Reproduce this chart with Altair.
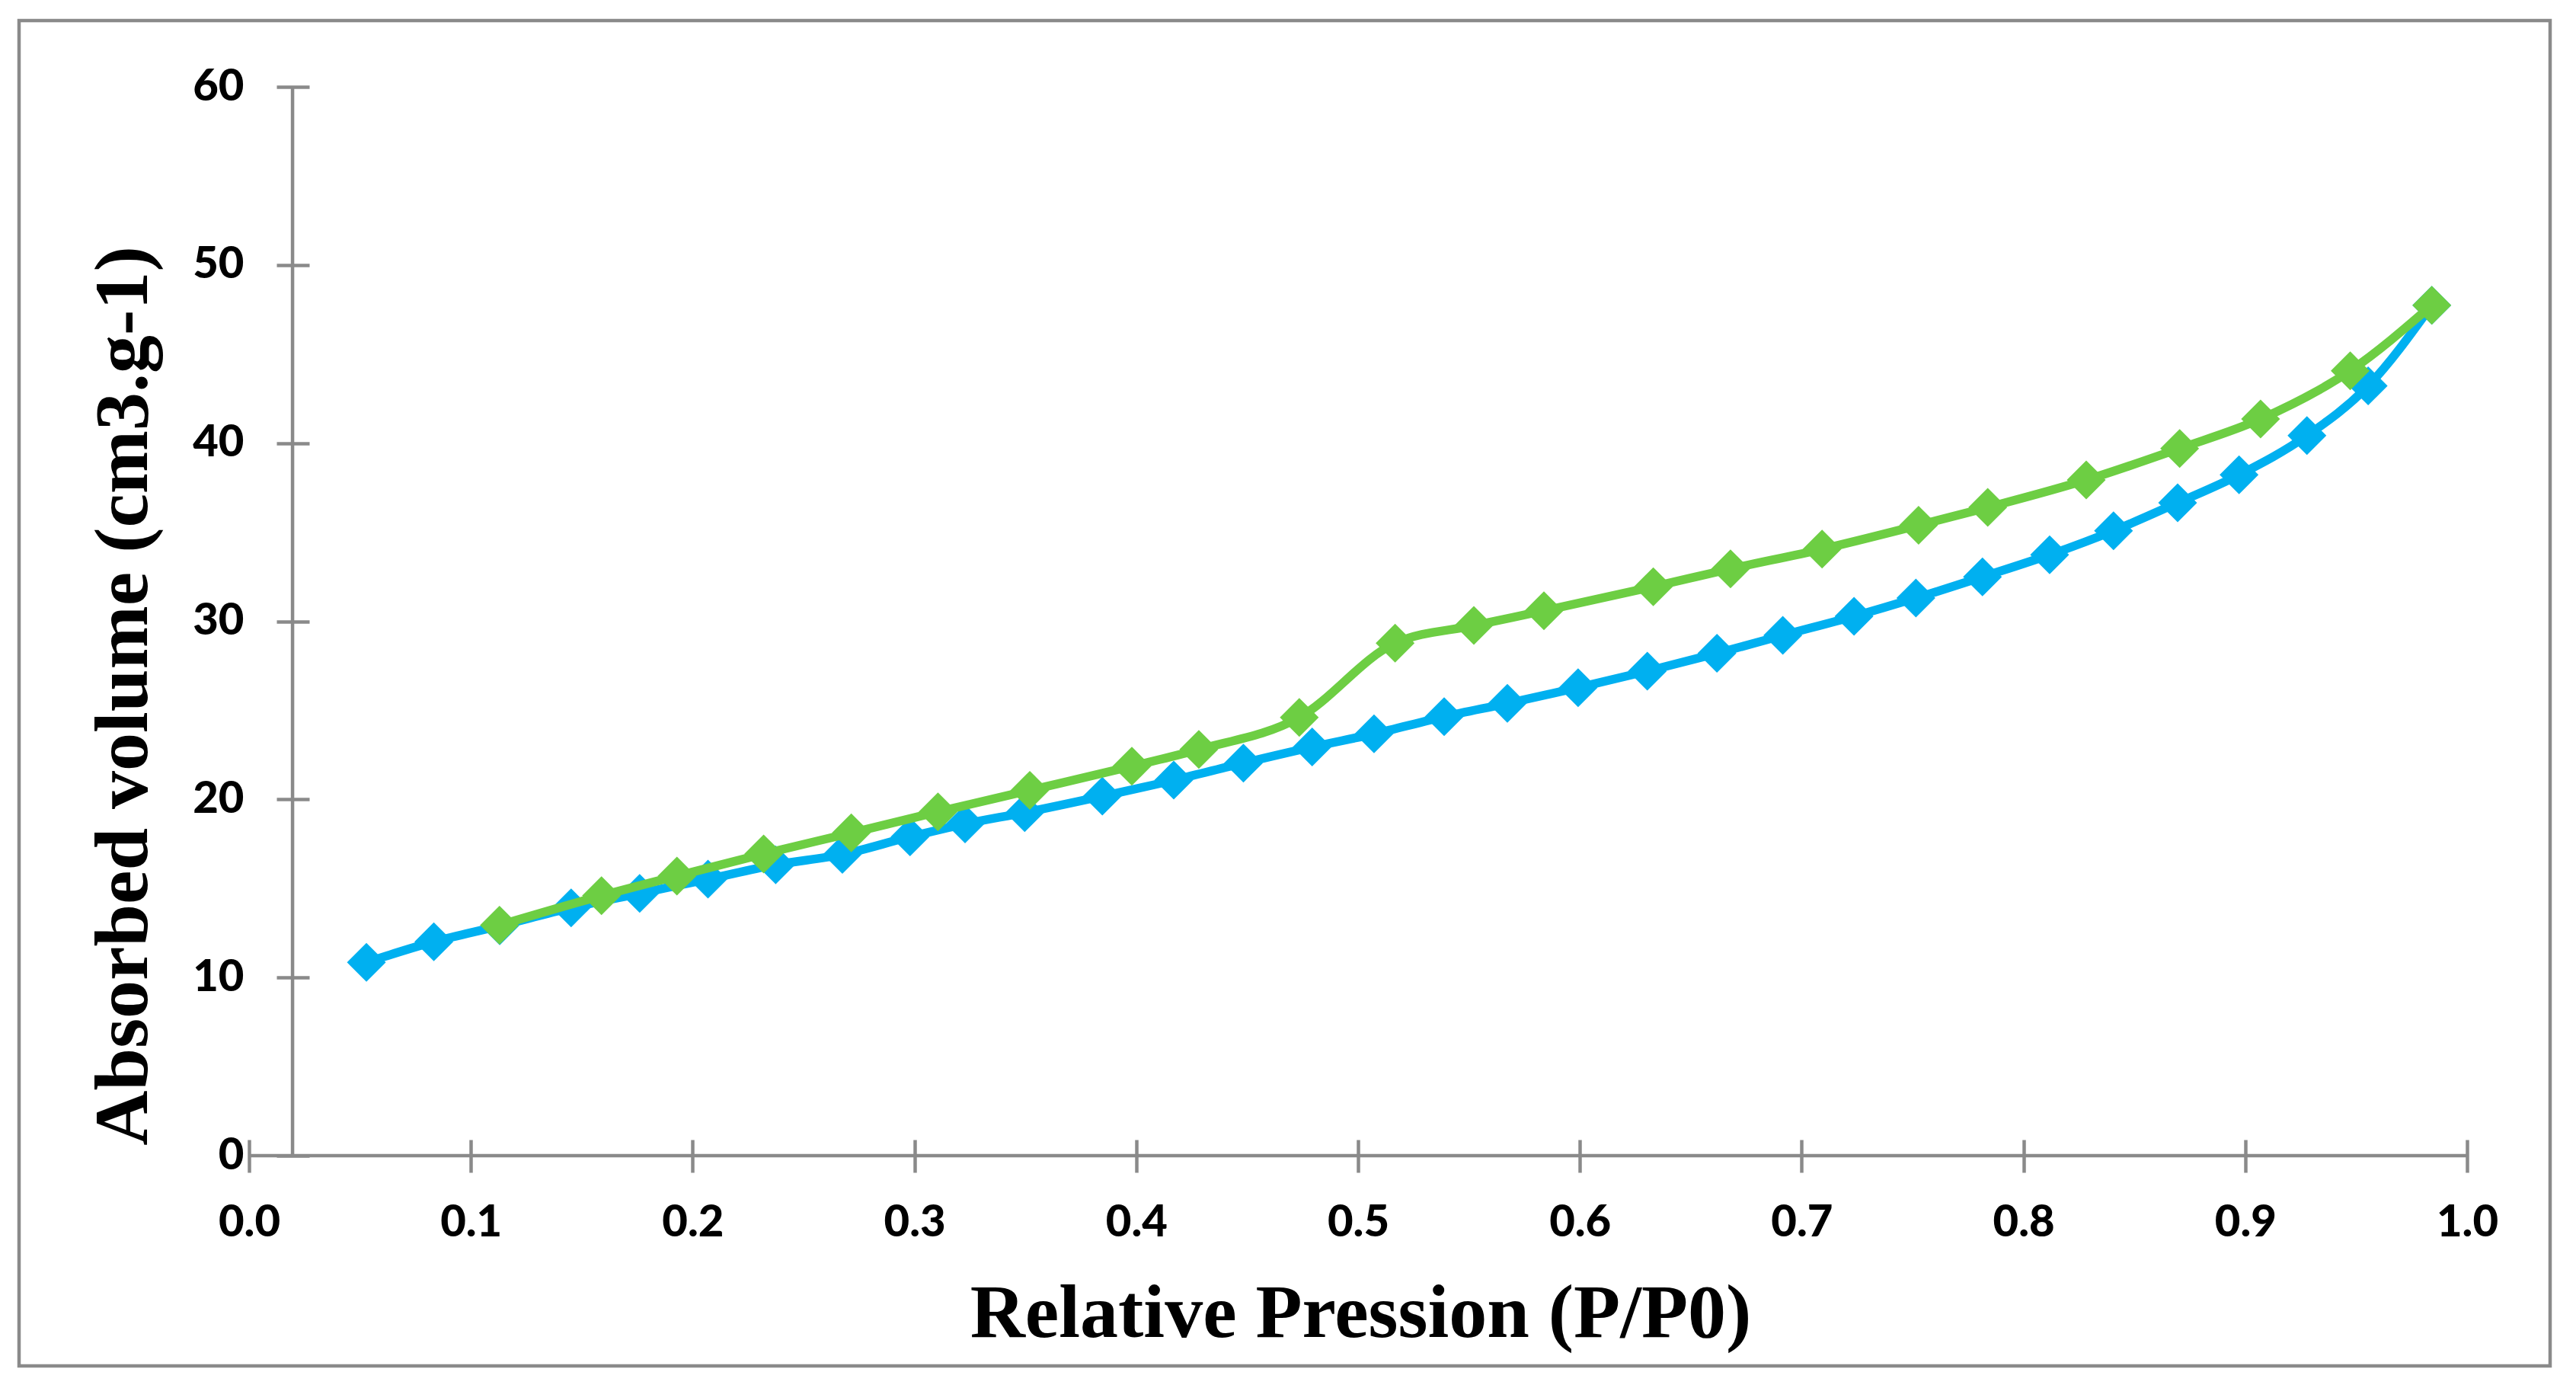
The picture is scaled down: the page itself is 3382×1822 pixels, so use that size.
import altair as alt
import pandas as pd

# Adsorption branch (blue)
ads_x = [0.0529, 0.0833, 0.1130, 0.1452, 0.1761, 0.2069, 0.2374, 0.2675, 0.2980, 0.3228,
         0.3497, 0.3847, 0.4169, 0.4483, 0.4793, 0.5072, 0.5388, 0.5673, 0.5992, 0.6304,
         0.6618, 0.6915, 0.7236, 0.7515, 0.7815, 0.8118, 0.8406, 0.8695, 0.8972, 0.9278,
         0.9554, 0.9841]
ads_y = [10.85, 12.01, 12.90, 13.91, 14.72, 15.52, 16.33, 16.91, 17.90, 18.62,
         19.26, 20.18, 21.08, 22.04, 22.94, 23.68, 24.64, 25.39, 26.27, 27.20,
         28.20, 29.21, 30.28, 31.30, 32.49, 33.73, 35.08, 36.65, 38.22, 40.42,
         43.21, 47.74]

# Desorption branch (green)
des_x = [0.1129, 0.1589, 0.1929, 0.2320, 0.2715, 0.3106, 0.3520, 0.3980, 0.4282, 0.4735,
         0.5167, 0.5522, 0.5838, 0.6331, 0.6679, 0.7092, 0.7527, 0.7839, 0.8283, 0.8704,
         0.9069, 0.9473, 0.9841]
des_y = [12.94, 14.59, 15.70, 16.94, 18.12, 19.30, 20.51, 21.86, 22.80, 24.60,
         28.77, 29.76, 30.59, 31.94, 32.94, 34.05, 35.39, 36.39, 37.93, 39.70,
         41.35, 44.06, 47.74]

x_ticks = [0.0, 0.1, 0.2, 0.3, 0.4, 0.5, 0.6, 0.7, 0.8, 0.9, 1.0]
y_ticks = [0, 10, 20, 30, 40, 50, 60]
x_domain = [0.0, 1.0]
y_domain = [0, 60]
y_axis_cross = 0.0196   # x value where the vertical axis line crosses

x_title = "Relative Pression (P/P0)"
y_title = "Absorbed volume (cm3.g-1)"

BLUE = "#00B0F0"
GREEN = "#6DCE43"
GRAY = "#8A8A8A"

ads = pd.DataFrame({"p": ads_x, "v": ads_y})
des = pd.DataFrame({"p": des_x, "v": des_y})
yline = pd.DataFrame({"p": [y_axis_cross, y_axis_cross], "v": [y_domain[0], y_domain[1]]})
xline = pd.DataFrame({"p": [x_domain[0], x_domain[1]], "v": [0, 0]})
frame = pd.DataFrame({"a": [0]})

xscale = alt.Scale(domain=x_domain, nice=False, zero=False)
yscale = alt.Scale(domain=y_domain, nice=False)

xaxis = alt.Axis(
    values=x_ticks, format=".1f", domain=False, grid=False,
    tickSize=43, tickWidth=4.5, tickColor=GRAY, offset=-21,
    labelPadding=37, labelFont="Lato", labelFontWeight=900, labelFontSize=58,
    labelColor="black", labelFlush=False, labelOverlap=False,
    title=x_title, titleFont="Liberation Serif", titleFontWeight="bold",
    titleFontSize=100, titleColor="black", titleX=1459, titleY=258,
    titleBaseline="alphabetic", titleAlign="center",
)
yaxis = alt.Axis(
    values=y_ticks, format="d", domain=False, grid=False,
    tickSize=43, tickWidth=4.5, tickColor=GRAY, offset=-79,
    labelPadding=43, labelFont="Lato", labelFontWeight=900, labelFontSize=58,
    labelColor="black", labelFlush=False, labelOverlap=False,
    title=y_title, titleFont="Liberation Serif", titleFontWeight="bold",
    titleFontSize=100, titleColor="black", titleX=-214, titleY=799,
    titleAngle=270, titleBaseline="alphabetic", titleAlign="center",
)

X = alt.X("p:Q", scale=xscale, axis=xaxis)
Y = alt.Y("v:Q", scale=yscale, axis=yaxis)

border = alt.Chart(frame).mark_rect(
    fillOpacity=0, stroke=GRAY, strokeWidth=4.5
).encode(
    x=alt.value(-302), x2=alt.value(3021), y=alt.value(-87), y2=alt.value(1679)
)

y_axis_line = alt.Chart(yline).mark_line(color=GRAY, strokeWidth=4.5).encode(x=X, y=Y)
x_axis_line = alt.Chart(xline).mark_line(color=GRAY, strokeWidth=4.5).encode(x=X, y=Y)

ads_line = alt.Chart(ads).mark_line(color=BLUE, strokeWidth=11.5, interpolate="monotone").encode(x=X, y=Y)
ads_pts = alt.Chart(ads).mark_point(shape="diamond", filled=True, size=2600, color=BLUE, opacity=1).encode(x=X, y=Y)
des_line = alt.Chart(des).mark_line(color=GREEN, strokeWidth=11.5, interpolate="monotone").encode(x=X, y=Y)
des_pts = alt.Chart(des).mark_point(shape="diamond", filled=True, size=2600, color=GREEN, opacity=1).encode(x=X, y=Y)

chart = alt.layer(
    border, y_axis_line, x_axis_line, ads_line, ads_pts, des_line, des_pts
).properties(
    width=2912, height=1403,
    autosize=alt.AutoSizeParams(type="none"),
    padding={"left": 319, "top": 106, "right": 135, "bottom": 297},
    background="white",
).configure_view(stroke=None)

chart.save("out.html", embed_options={"renderer": "svg", "actions": False})
